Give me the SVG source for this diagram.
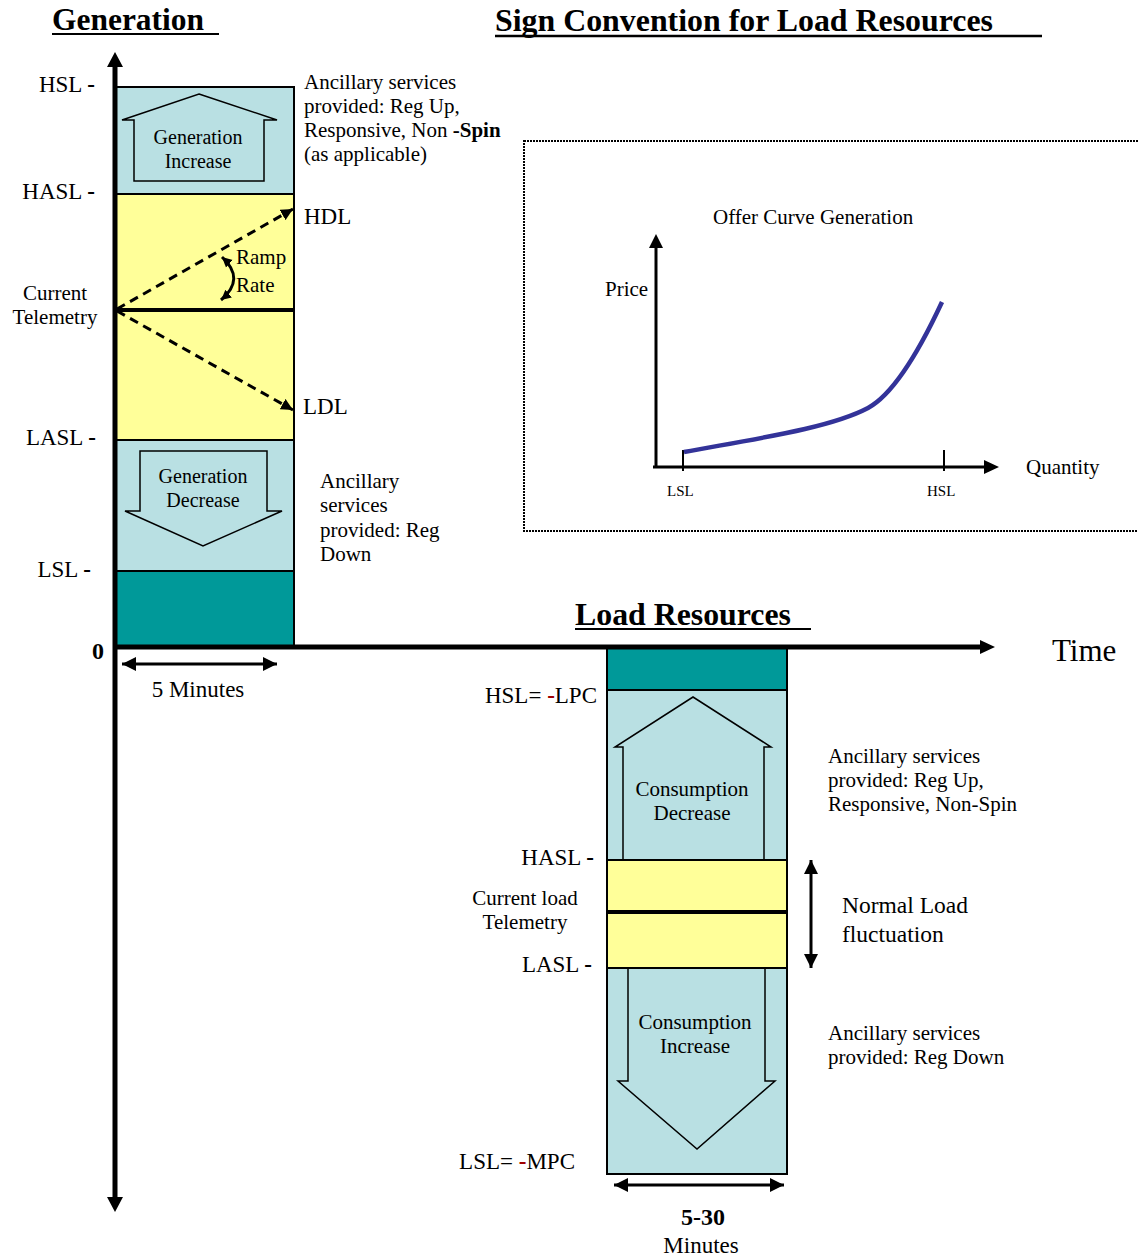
<svg xmlns="http://www.w3.org/2000/svg" width="1138" height="1260" viewBox="0 0 1138 1260">
<style>
text{font-family:"Liberation Serif","Times New Roman",serif;fill:#000}
.t{font-weight:bold;font-size:31px}
.l{font-size:23px}
.m{font-size:21px}
.s{font-size:20px}
.cl{font-size:21px}
.xs{font-size:15px}
.c{text-anchor:middle}
.e{text-anchor:end}
.b{font-weight:bold}
.lb{fill:#B9E0E3;stroke:#000;stroke-width:2}
.yl{fill:#FFFF99;stroke:#000;stroke-width:2}
.tl{fill:#009999;stroke:#000;stroke-width:2}
.ar{fill:none;stroke:#000;stroke-width:1.5}
.ln{stroke:#000;fill:none}
.red{fill:#A00000;font-weight:bold}
</style>
<defs>
<marker id="ah" markerUnits="userSpaceOnUse" markerWidth="16" markerHeight="14" refX="14" refY="7" orient="auto">
<path d="M0,0 L14,7 L0,14 Z" fill="#000"/>
</marker>
<marker id="ahs" markerUnits="userSpaceOnUse" markerWidth="14" markerHeight="12" refX="12" refY="6" orient="auto">
<path d="M0,0 L12,6 L0,12 Z" fill="#000"/>
</marker>
<marker id="ahb" markerUnits="userSpaceOnUse" markerWidth="16" markerHeight="14" refX="2" refY="7" orient="auto">
<path d="M16,0 L2,7 L16,14 Z" fill="#000"/>
</marker>
<marker id="ra" markerUnits="userSpaceOnUse" markerWidth="12" markerHeight="12" refX="10" refY="6" orient="auto">
<path d="M0,1 L10,6 L0,11 Z" fill="#000"/>
</marker>
<marker id="rb" markerUnits="userSpaceOnUse" markerWidth="12" markerHeight="12" refX="2" refY="6" orient="auto">
<path d="M12,1 L2,6 L12,11 Z" fill="#000"/>
</marker>
</defs>

<!-- Titles -->
<g id="titles">
<text class="t" x="52" y="30" textLength="152" lengthAdjust="spacingAndGlyphs">Generation</text>
<line class="ln" x1="52" y1="34" x2="219" y2="34" stroke-width="2"/>
<text class="t" x="495" y="31" font-size="32" textLength="498" lengthAdjust="spacingAndGlyphs">Sign Convention for Load Resources</text>
<line class="ln" x1="495" y1="36" x2="1042" y2="36" stroke-width="2.5"/>
<text class="t" x="575" y="625" font-size="32" textLength="216" lengthAdjust="spacingAndGlyphs">Load Resources</text>
<line class="ln" x1="575" y1="629" x2="811" y2="629" stroke-width="2"/>
</g>

<!-- Generation column -->
<g id="gen-increase">
<rect class="lb" x="115" y="87" width="179" height="107"/>
<polygon class="ar" points="199,94 277,120 264,120 264,181 134,181 134,120 122,120"/>
<text class="s c" x="198" y="144">Generation</text>
<text class="s c" x="198" y="168">Increase</text>
</g>
<g id="gen-band">
<rect class="yl" x="115" y="194" width="179" height="246"/>
</g>
<g id="gen-decrease">
<rect class="lb" x="115" y="440" width="179" height="131"/>
<polygon class="ar" points="140,451 267,451 267,511 282,511 203,546 125,511 140,511"/>
<text class="s c" x="203" y="483">Generation</text>
<text class="s c" x="203" y="507">Decrease</text>
</g>
<g id="gen-base">
<rect class="tl" x="115" y="571" width="179" height="76"/>
</g>

<!-- Load column -->
<g id="load-base">
<rect class="tl" x="607" y="647" width="180" height="43"/>
</g>
<g id="cons-decrease">
<rect class="lb" x="607" y="690" width="180" height="170"/>
<polygon class="ar" points="693,697 771,747 764,747 764,860 623,860 623,747 615,747"/>
<text class="m c" x="692" y="796">Consumption</text>
<text class="m c" x="692" y="820">Decrease</text>
</g>
<g id="load-band">
<rect class="yl" x="607" y="860" width="180" height="108"/>
</g>
<g id="cons-increase">
<rect class="lb" x="607" y="968" width="180" height="206"/>
<polygon class="ar" points="628,968 765,968 765,1081 775,1081 697,1149 618,1081 628,1081"/>
<text class="m c" x="695" y="1029">Consumption</text>
<text class="m c" x="695" y="1053">Increase</text>
</g>

<!-- Offer curve inset -->
<g id="offer-curve">
<rect x="524" y="141" width="620" height="390" fill="none" stroke="#000" stroke-width="2" stroke-dasharray="2 1"/>
<text x="713" y="224" font-size="21">Offer Curve Generation</text>
<line class="ln" x1="656" y1="467" x2="656" y2="248" stroke-width="3"/>
<polygon points="656,234 649,248 663,248" fill="#000"/>
<line class="ln" x1="653" y1="467" x2="985" y2="467" stroke-width="3"/>
<polygon points="999,467 984,460 984,474" fill="#000"/>
<line class="ln" x1="683" y1="450" x2="683" y2="471" stroke-width="2"/>
<line class="ln" x1="944" y1="450" x2="944" y2="471" stroke-width="2"/>
<path d="M684,452 C760,438 830,428 868,408 C890,396 915,360 942,302" fill="none" stroke="#333399" stroke-width="4.5"/>
<text class="m" x="605" y="296">Price</text>
<text class="m" x="1026" y="474">Quantity</text>
<text class="xs" x="667" y="496">LSL</text>
<text class="xs" x="927" y="496">HSL</text>
</g>

<!-- Connectors / axes -->
<g id="connectors">
<line class="ln" x1="115" y1="66" x2="115" y2="1198" stroke-width="5"/>
<polygon points="115,52 107,67 123,67" fill="#000"/>
<polygon points="115,1212 107,1197 123,1197" fill="#000"/>
<line class="ln" x1="113" y1="647" x2="982" y2="647" stroke-width="5"/>
<polygon points="995,647 980,640 980,654" fill="#000"/>
<line class="ln" x1="115" y1="310" x2="294" y2="310" stroke-width="4"/>
<line class="ln" x1="117" y1="309" x2="293" y2="209" stroke-width="3" stroke-dasharray="9 6" marker-end="url(#ahs)"/>
<line class="ln" x1="117" y1="311" x2="293" y2="410" stroke-width="3" stroke-dasharray="9 6" marker-end="url(#ahs)"/>
<path d="M222,257 Q246,279 221,300" class="ln" stroke-width="3" marker-start="url(#rb)" marker-end="url(#ra)"/>
<line class="ln" x1="122" y1="664" x2="277" y2="664" stroke-width="3" marker-start="url(#ahb)" marker-end="url(#ah)"/>
<line class="ln" x1="614" y1="1185" x2="784" y2="1185" stroke-width="3" marker-start="url(#ahb)" marker-end="url(#ah)"/>
<line class="ln" x1="811" y1="860" x2="811" y2="968" stroke-width="3" marker-start="url(#ahb)" marker-end="url(#ah)"/>
<line class="ln" x1="607" y1="912" x2="787" y2="912" stroke-width="4"/>
</g>

<!-- Generation labels -->
<g id="gen-labels">
<text class="l e" x="95" y="92">HSL <tspan class="b">-</tspan></text>
<text class="l e" x="95" y="199">HASL <tspan class="b">-</tspan></text>
<text class="cl c" x="55" y="300">Current</text>
<text class="cl c" x="55" y="324">Telemetry</text>
<text class="l e" x="96" y="445">LASL <tspan class="b">-</tspan></text>
<text class="l e" x="91" y="577">LSL <tspan class="b">-</tspan></text>
<text class="b" x="92" y="659" font-size="24">0</text>
<text class="l c" x="198" y="697">5 Minutes</text>
<text class="m" x="304" y="89">Ancillary services</text>
<text class="m" x="304" y="113">provided: Reg Up,</text>
<text class="m" x="304" y="137">Responsive, Non <tspan class="b">-Spin</tspan></text>
<text class="m" x="304" y="161">(as applicable)</text>
<text class="l" x="304" y="224">HDL</text>
<text class="m" x="236" y="264">Ramp</text>
<text class="m" x="236" y="292">Rate</text>
<text class="l" x="303" y="414">LDL</text>
<text class="m" x="320" y="488">Ancillary</text>
<text class="m" x="320" y="512">services</text>
<text class="m" x="320" y="537">provided: Reg</text>
<text class="m" x="320" y="561">Down</text>
<text x="1052" y="661" font-size="31">Time</text>
</g>

<!-- Load labels -->
<g id="load-labels">
<text class="l e" x="597" y="703">HSL= <tspan class="red">-</tspan>LPC</text>
<text class="l e" x="594" y="865">HASL <tspan class="b">-</tspan></text>
<text class="cl c" x="525" y="905">Current load</text>
<text class="cl c" x="525" y="929">Telemetry</text>
<text class="l e" x="592" y="972">LASL <tspan class="b">-</tspan></text>
<text class="l e" x="575" y="1169">LSL= <tspan class="red">-</tspan>MPC</text>
<text class="m" x="828" y="763">Ancillary services</text>
<text class="m" x="828" y="787">provided: Reg Up,</text>
<text class="m" x="828" y="811">Responsive, Non-Spin</text>
<text x="842" y="913" font-size="23.5">Normal Load</text>
<text x="842" y="942" font-size="23.5">fluctuation</text>
<text class="m" x="828" y="1040">Ancillary services</text>
<text class="m" x="828" y="1064">provided: Reg Down</text>
<text class="c b" x="703" y="1225" font-size="24">5-30</text>
<text class="l c" x="701" y="1253">Minutes</text>
</g>
</svg>
